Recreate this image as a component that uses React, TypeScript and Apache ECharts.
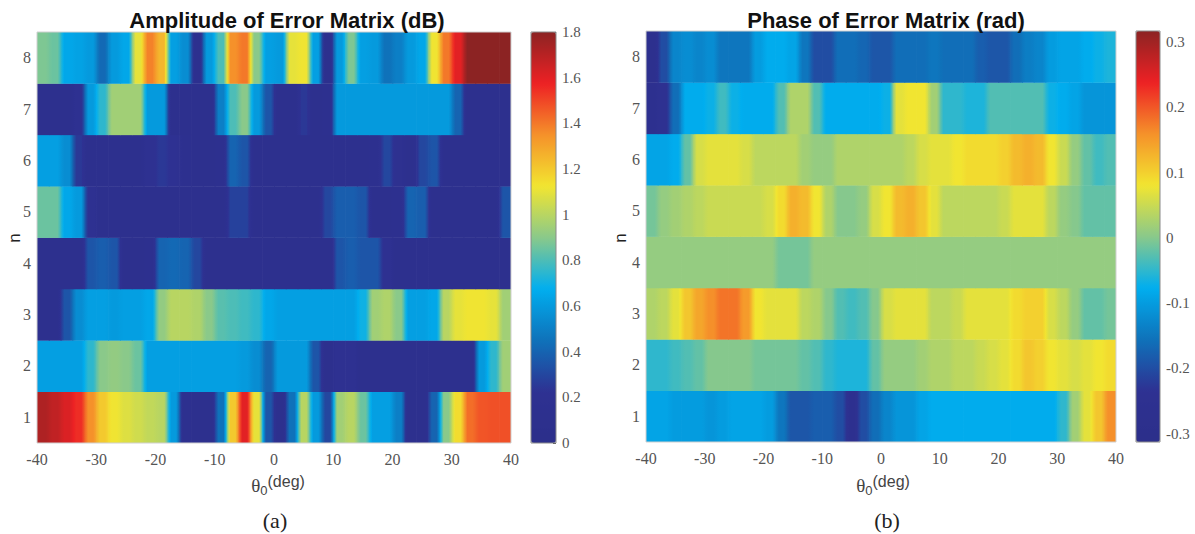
import { useEffect, useRef } from "react";
import * as echarts from "echarts";

// x cells: 2-degree bins centred on these angles (deg)
const angleCenters = [-39, -37, -35, -33, -31, -29, -27, -25, -23, -21, -19, -17, -15, -13, -11, -9, -7, -5, -3, -1, 1, 3, 5, 7, 9, 11, 13, 15, 17, 19, 21, 23, 25, 27, 29, 31, 33, 35, 37, 39];
const rowLabels = ["1", "2", "3", "4", "5", "6", "7", "8"];

// Amplitude of error matrix (dB), rows n = 1..8
const amp1 = [1.72, 1.68, 1.62, 1.55, 1.35, 1.2, 1.12, 1.08, 1.05, 1.02, 1.0, 0.6, 0.15, 0.1, 0.1, 0.45, 1.2, 1.6, 1.1, 0.35, 0.1, 0.45, 1.0, 0.6, 0.3, 0.95, 1.0, 0.85, 0.62, 0.62, 0.5, 0.1, 0.1, 0.4, 0.9, 1.15, 1.42, 1.47, 1.48, 1.48];
const amp2 = [0.62, 0.62, 0.62, 0.62, 0.75, 0.9, 0.92, 0.9, 0.85, 0.62, 0.62, 0.62, 0.62, 0.62, 0.62, 0.62, 0.62, 0.6, 0.55, 0.4, 0.6, 0.6, 0.6, 0.35, 0.1, 0.2, 0.2, 0.1, 0.1, 0.1, 0.1, 0.1, 0.1, 0.1, 0.1, 0.1, 0.12, 0.6, 0.75, 0.95];
const amp3 = [0.1, 0.12, 0.35, 0.55, 0.62, 0.62, 0.6, 0.62, 0.62, 0.65, 0.92, 1.0, 1.0, 0.98, 0.9, 0.82, 0.8, 0.78, 0.75, 0.65, 0.62, 0.62, 0.62, 0.62, 0.62, 0.62, 0.62, 0.7, 0.95, 0.98, 0.9, 0.62, 0.62, 0.65, 1.0, 1.1, 1.12, 1.12, 1.1, 0.95];
const amp4 = [0.1, 0.1, 0.1, 0.12, 0.35, 0.38, 0.35, 0.1, 0.1, 0.15, 0.4, 0.42, 0.4, 0.3, 0.12, 0.1, 0.1, 0.1, 0.1, 0.1, 0.1, 0.1, 0.1, 0.1, 0.1, 0.35, 0.38, 0.35, 0.35, 0.2, 0.1, 0.1, 0.1, 0.1, 0.1, 0.1, 0.1, 0.1, 0.1, 0.1];
const amp5 = [0.85, 0.85, 0.65, 0.6, 0.2, 0.1, 0.1, 0.1, 0.1, 0.1, 0.1, 0.1, 0.1, 0.1, 0.1, 0.1, 0.28, 0.28, 0.1, 0.1, 0.1, 0.1, 0.1, 0.12, 0.3, 0.38, 0.38, 0.35, 0.12, 0.12, 0.15, 0.4, 0.38, 0.12, 0.1, 0.1, 0.1, 0.1, 0.1, 0.35];
const amp6 = [0.62, 0.62, 0.55, 0.25, 0.1, 0.1, 0.1, 0.12, 0.12, 0.2, 0.25, 0.22, 0.15, 0.1, 0.1, 0.15, 0.4, 0.35, 0.12, 0.1, 0.1, 0.1, 0.1, 0.1, 0.1, 0.12, 0.1, 0.1, 0.15, 0.3, 0.18, 0.1, 0.3, 0.35, 0.12, 0.1, 0.1, 0.1, 0.1, 0.1];
const amp7 = [0.1, 0.1, 0.1, 0.2, 0.6, 0.75, 0.95, 0.95, 0.95, 0.6, 0.6, 0.1, 0.1, 0.1, 0.1, 0.5, 0.8, 0.9, 0.6, 0.35, 0.1, 0.1, 0.25, 0.1, 0.15, 0.6, 0.6, 0.6, 0.6, 0.6, 0.6, 0.6, 0.6, 0.6, 0.6, 0.4, 0.1, 0.1, 0.1, 0.1];
const amp8 = [0.88, 0.85, 0.65, 0.63, 0.6, 0.42, 0.6, 0.65, 1.1, 1.38, 1.25, 0.62, 0.55, 0.15, 0.6, 0.8, 1.35, 1.4, 0.9, 0.62, 0.6, 1.1, 1.12, 0.62, 0.1, 0.6, 0.88, 0.62, 0.6, 0.45, 0.5, 0.6, 0.65, 1.12, 1.4, 1.6, 1.8, 1.8, 1.8, 1.8];

// Phase of error matrix (rad), rows n = 1..8
const ph1 = [-0.09, -0.09, -0.1, -0.1, -0.1, -0.11, -0.1, -0.09, -0.09, -0.09, -0.1, -0.15, -0.19, -0.19, -0.18, -0.18, -0.2, -0.26, -0.2, -0.16, -0.13, -0.11, -0.11, -0.09, -0.08, -0.08, -0.08, -0.08, -0.08, -0.08, -0.08, -0.08, -0.08, -0.08, -0.08, -0.05, 0.02, 0.07, 0.11, 0.16];
const ph2 = [-0.05, -0.05, -0.04, -0.03, -0.02, 0.0, 0.0, 0.0, 0.0, -0.01, -0.01, -0.01, -0.01, -0.02, -0.03, -0.05, -0.06, -0.06, -0.06, -0.02, 0.01, 0.01, 0.01, 0.02, 0.03, 0.03, 0.04, 0.04, 0.05, 0.06, 0.07, 0.09, 0.11, 0.1, 0.08, 0.07, 0.06, 0.07, 0.08, 0.09];
const ph3 = [0.03, 0.04, 0.07, 0.11, 0.14, 0.16, 0.18, 0.18, 0.15, 0.08, 0.07, 0.07, 0.07, 0.04, 0.03, 0.0, -0.03, -0.04, -0.03, 0.0, 0.06, 0.07, 0.07, 0.07, 0.04, 0.04, 0.05, 0.07, 0.07, 0.07, 0.07, 0.09, 0.1, 0.1, 0.06, 0.04, 0.01, -0.02, -0.02, -0.01];
const ph4 = [0.01, 0.01, 0.01, 0.01, 0.01, 0.01, 0.01, 0.01, 0.01, 0.01, 0.01, -0.01, -0.01, -0.01, 0.01, 0.01, 0.01, 0.01, 0.01, 0.01, 0.01, 0.01, 0.01, 0.01, 0.01, 0.01, 0.01, 0.01, 0.01, 0.01, 0.01, 0.01, 0.01, 0.01, 0.01, 0.01, 0.01, 0.01, 0.01, 0.01];
const ph5 = [-0.01, 0.01, 0.02, 0.03, 0.04, 0.05, 0.05, 0.05, 0.05, 0.05, 0.06, 0.09, 0.13, 0.12, 0.08, 0.03, 0.0, 0.0, 0.01, 0.06, 0.08, 0.12, 0.13, 0.11, 0.07, 0.04, 0.04, 0.04, 0.04, 0.04, 0.05, 0.07, 0.07, 0.07, 0.04, 0.01, 0.0, -0.02, -0.02, -0.02];
const ph6 = [-0.09, -0.09, -0.08, -0.02, 0.06, 0.07, 0.07, 0.07, 0.06, 0.04, 0.04, 0.04, 0.04, 0.02, 0.01, 0.01, 0.03, 0.03, 0.03, 0.03, 0.03, 0.03, 0.04, 0.06, 0.07, 0.07, 0.08, 0.09, 0.09, 0.09, 0.1, 0.12, 0.13, 0.12, 0.08, 0.05, 0.01, -0.02, -0.04, -0.03];
const ph7 = [-0.26, -0.24, -0.16, -0.08, -0.08, -0.07, -0.04, -0.07, -0.08, -0.08, -0.08, -0.03, 0.03, 0.03, -0.03, -0.08, -0.08, -0.08, -0.08, -0.08, -0.07, 0.07, 0.08, 0.08, 0.02, -0.05, -0.05, -0.06, -0.06, -0.03, -0.03, -0.03, -0.03, -0.03, -0.07, -0.08, -0.09, -0.11, -0.11, -0.11];
const ph8 = [-0.27, -0.2, -0.13, -0.12, -0.13, -0.12, -0.15, -0.15, -0.15, -0.1, -0.08, -0.08, -0.09, -0.15, -0.2, -0.2, -0.16, -0.16, -0.17, -0.19, -0.19, -0.16, -0.16, -0.16, -0.15, -0.16, -0.16, -0.16, -0.18, -0.19, -0.19, -0.16, -0.14, -0.13, -0.1, -0.09, -0.09, -0.08, -0.07, -0.06];

const ampRows = [amp1, amp2, amp3, amp4, amp5, amp6, amp7, amp8];
const phaseRows = [ph1, ph2, ph3, ph4, ph5, ph6, ph7, ph8];

const ampRange = [0, 1.8];
const phaseRange = [-0.313, 0.317];
const phaseTicks = [-0.3, -0.2, -0.1, 0, 0.1, 0.2, 0.3];
const xTickStep = 10;

const jetPrint = ["#2c2f8a", "#2e3192", "#0f72ba", "#00aeef", "#8ac98a", "#f2e530", "#f5912a", "#ed2124", "#8c2323"];

function toCells(rows: number[][]) {
  const out: number[][] = [];
  rows.forEach((r, yi) => r.forEach((v, xi) => out.push([xi, yi, v])));
  return out;
}

const jetRgb = jetPrint.map((h) => [parseInt(h.slice(1, 3), 16), parseInt(h.slice(3, 5), 16), parseInt(h.slice(5, 7), 16)]);
function colorAt(v: number, lo: number, hi: number) {
  let t = (v - lo) / (hi - lo);
  t = Math.max(0, Math.min(1, t));
  const p = t * (jetRgb.length - 1);
  const i = Math.min(jetRgb.length - 2, Math.floor(p));
  const f = p - i;
  const a = jetRgb[i];
  const b = jetRgb[i + 1];
  const c = a.map((x, k) => Math.round(x + (b[k] - x) * f));
  return `rgb(${c[0]},${c[1]},${c[2]})`;
}

function makeRender(rows: number[][], lo: number, hi: number) {
  return (params: any, api: any) => {
    const xi = api.value(0);
    const yi = api.value(1);
    const v = api.value(2);
    const row = rows[yi];
    const vl = xi > 0 ? row[xi - 1] : v;
    const vr = xi < row.length - 1 ? row[xi + 1] : v;
    const c = api.coord([xi, yi]);
    const s = api.size([1, 1]);
    const stops: any[] = [];
    const ml = (vl + v) / 2;
    const mr = (v + vr) / 2;
    for (let k = 0; k <= 3; k++) stops.push({ offset: k * 0.1, color: colorAt(ml + ((v - ml) * k) / 3, lo, hi) });
    for (let k = 0; k <= 3; k++) stops.push({ offset: 0.7 + k * 0.1, color: colorAt(v + ((mr - v) * k) / 3, lo, hi) });
    return {
      type: "rect",
      shape: { x: c[0] - s[0] / 2, y: c[1] - s[1] / 2, width: s[0] + 0.7, height: s[1] + 0.4 },
      style: { fill: new echarts.graphic.LinearGradient(0, 0, 1, 0, stops) },
    };
  };
}

const serif = "'Liberation Serif', 'Times New Roman', serif";
const sans = "'Liberation Sans', Arial, sans-serif";
const tickColor = "#555";

export default function App() {
  const ref = useRef<HTMLDivElement>(null);
  useEffect(() => {
    if (!ref.current) return;
    const chart = echarts.init(ref.current, undefined, { renderer: "svg" });
    const xLabel = { fontFamily: serif, fontSize: 16, color: tickColor, margin: 8 };
    const yCat = (gi: number) => ({
      gridIndex: gi,
      type: "category",
      data: rowLabels,
      axisLine: { show: false },
      axisTick: { show: false },
      axisLabel: { fontFamily: serif, fontSize: 16, color: tickColor, margin: 6 },
    });
    const xVal = (gi: number) => ({
      gridIndex: gi,
      type: "value",
      min: -40,
      max: 40,
      interval: xTickStep,
      position: "bottom",
      axisLine: { show: false },
      axisTick: { show: false },
      splitLine: { show: false },
      axisLabel: xLabel,
    });
    const cbLabel = { fontFamily: serif, fontSize: 15, color: tickColor, margin: 6 };
    const option: any = {
      animation: false,
      grid: [
        { left: 37, top: 32, width: 474, height: 411 },
        { left: 531, top: 32, width: 25, height: 411 },
        { left: 646, top: 31, width: 470, height: 411 },
        { left: 1136, top: 31, width: 24, height: 411 },
      ],
      xAxis: [
        { gridIndex: 0, type: "category", data: angleCenters, show: false },
        xVal(0),
        { gridIndex: 1, type: "category", data: ["c"], show: false },
        { gridIndex: 2, type: "category", data: angleCenters, show: false },
        xVal(2),
        { gridIndex: 3, type: "category", data: ["c"], show: false },
      ],
      yAxis: [
        yCat(0),
        {
          gridIndex: 1,
          type: "value",
          min: ampRange[0],
          max: ampRange[1],
          interval: 0.2,
          position: "right",
          axisLine: { show: false },
          splitLine: { show: false },
          axisTick: { show: true, inside: true, length: 3, lineStyle: { color: "#444" } },
          axisLabel: cbLabel,
        },
        yCat(2),
        {
          gridIndex: 3,
          type: "value",
          min: phaseRange[0],
          max: phaseRange[1],
          position: "right",
          axisLine: { show: false },
          splitLine: { show: false },
          axisTick: { show: true, inside: true, length: 3, lineStyle: { color: "#444" }, customValues: phaseTicks },
          axisLabel: { ...cbLabel, customValues: phaseTicks },
        },
      ],
      visualMap: [
        {
          type: "continuous",
          seriesIndex: 0,
          dimension: 2,
          min: ampRange[0],
          max: ampRange[1],
          calculable: false,
          hoverLink: false,
          left: 531,
          top: 32,
          itemWidth: 25,
          itemHeight: 411,
          padding: 0,
          inRange: { color: jetPrint },
        },
        {
          type: "continuous",
          seriesIndex: 1,
          dimension: 2,
          min: phaseRange[0],
          max: phaseRange[1],
          calculable: false,
          hoverLink: false,
          left: 1136,
          top: 31,
          itemWidth: 24,
          itemHeight: 411,
          padding: 0,
          inRange: { color: jetPrint },
        },
      ],
      series: [
        { type: "custom", xAxisIndex: 0, yAxisIndex: 0, clip: true, data: toCells(ampRows), renderItem: makeRender(ampRows, ampRange[0], ampRange[1]), silent: true },
        { type: "custom", xAxisIndex: 3, yAxisIndex: 2, clip: true, data: toCells(phaseRows), renderItem: makeRender(phaseRows, phaseRange[0], phaseRange[1]), silent: true },
      ],
      graphic: [
        { type: "rect", z: 100, shape: { x: 37, y: 32, width: 474, height: 411 }, style: { fill: "none", stroke: "#d0d0d0", lineWidth: 1 } },
        { type: "rect", z: 100, shape: { x: 646, y: 31, width: 470, height: 411 }, style: { fill: "none", stroke: "#d0d0d0", lineWidth: 1 } },
        { type: "rect", z: 100, shape: { x: 531, y: 32, width: 25, height: 411 }, style: { fill: "none", stroke: "#8a8a8a", lineWidth: 1 } },
        { type: "rect", z: 100, shape: { x: 1136, y: 31, width: 24, height: 411 }, style: { fill: "none", stroke: "#8a8a8a", lineWidth: 1 } },
        { type: "text", z: 100, x: 287, y: 20, style: { text: "Amplitude of Error Matrix (dB)", font: `bold 22px ${sans}`, fill: "#111", align: "center", verticalAlign: "middle" } },
        { type: "text", z: 100, x: 886, y: 20, style: { text: "Phase of Error Matrix (rad)", font: `bold 22px ${sans}`, fill: "#111", align: "center", verticalAlign: "middle" } },
        { type: "text", z: 100, x: 14, y: 238, rotation: Math.PI / 2, style: { text: "n", font: `17px ${sans}`, fill: "#222", align: "center", verticalAlign: "middle" } },
        { type: "text", z: 100, x: 620, y: 238, rotation: Math.PI / 2, style: { text: "n", font: `17px ${sans}`, fill: "#222", align: "center", verticalAlign: "middle" } },
        ...[278, 883].map((cx) => ({
          type: "text",
          z: 100,
          x: cx,
          y: 485,
          style: {
            text: "{t|θ}{s|0}{d|(deg)}",
            align: "center",
            verticalAlign: "middle",
            rich: {
              t: { fontFamily: serif, fontSize: 19, fill: "#444", lineHeight: 24, verticalAlign: "middle" },
              s: { fontFamily: sans, fontSize: 13, fill: "#444", verticalAlign: "bottom" },
              d: { fontFamily: sans, fontSize: 16, fill: "#444", verticalAlign: "top" },
            },
          },
        })),
        { type: "text", z: 100, x: 275, y: 520, style: { text: "(a)", font: `22px ${serif}`, fill: "#222", align: "center", verticalAlign: "middle" } },
        { type: "text", z: 100, x: 887, y: 520, style: { text: "(b)", font: `22px ${serif}`, fill: "#222", align: "center", verticalAlign: "middle" } },
      ],
    };
    chart.setOption(option);
    return () => chart.dispose();
  }, []);
  return <div ref={ref} style={{ position: "fixed", left: 0, top: 0, width: 1195, height: 534, background: "#fff" }} />;
}
